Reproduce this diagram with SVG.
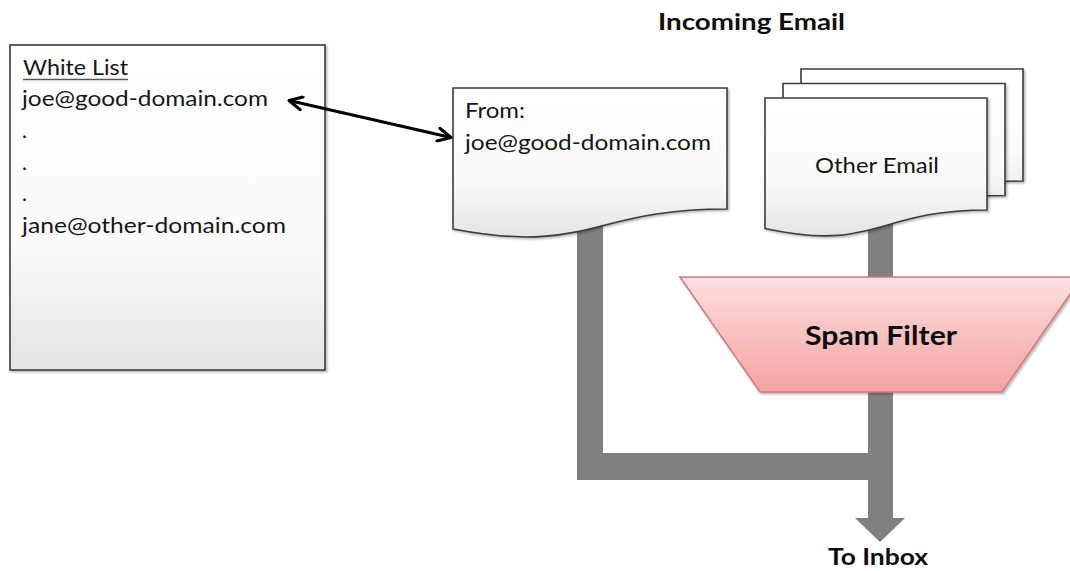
<svg xmlns="http://www.w3.org/2000/svg" width="1070" height="571" viewBox="0 0 1070 571">
<style>
.txt{font-family:Lato,"Liberation Sans",sans-serif;font-size:21px;fill:#161616}
.bold{font-family:Lato,"Liberation Sans",sans-serif;font-weight:bold;fill:#0d0d0d}
.doc{fill:url(#docGrad);stroke:#3c3c3c;stroke-width:1.6;filter:url(#shadow)}
.pipe{fill:#808080}
</style>
<defs>
<linearGradient id="docGrad" x1="0" y1="0" x2="0" y2="1">
<stop offset="0" stop-color="#ffffff"/>
<stop offset="0.6" stop-color="#fbfbfb"/>
<stop offset="1" stop-color="#e4e4e4"/>
</linearGradient>
<linearGradient id="spamGrad" x1="0" y1="0" x2="0" y2="1">
<stop offset="0" stop-color="#fde0e0"/>
<stop offset="1" stop-color="#f4a3a2"/>
</linearGradient>
<filter id="shadow" x="-10%" y="-10%" width="120%" height="120%">
<feDropShadow dx="1.5" dy="1.5" stdDeviation="1.2" flood-color="#000" flood-opacity="0.3"/>
</filter>
<marker id="vhead" viewBox="-16 -8 18 16" refX="0" refY="0" markerWidth="18" markerHeight="16" markerUnits="userSpaceOnUse" orient="auto-start-reverse">
<path d="M-13,-6.5 L0,0 L-13,6.5" fill="none" stroke="#000" stroke-width="3" stroke-linecap="round" stroke-linejoin="round"/>
</marker>
<path id="otherDoc" d="M765,98 H987 V210 C876,210 876,252.6 765,228.5 Z"/>
</defs>

<g id="connectors">
<g id="pipes">
<rect class="pipe" x="577" y="222" width="26" height="258"/>
<rect class="pipe" x="577" y="453" width="316" height="27"/>
<rect class="pipe" x="868" y="222" width="25" height="297"/>
<polygon class="pipe" points="855,518 905,518 880,542"/>
</g>
</g>

<g id="title">
<text class="bold" x="658" y="30" font-size="23" textLength="187" lengthAdjust="spacingAndGlyphs">Incoming Email</text>
</g>

<g id="whiteList">
<rect x="10" y="45" width="315" height="325" class="doc"/>
<text class="txt" x="23" y="75" textLength="105" lengthAdjust="spacingAndGlyphs">White List</text>
<line x1="23" y1="79.5" x2="128" y2="79.5" stroke="#555" stroke-width="1.4"/>
<text class="txt" x="22" y="106" textLength="246" lengthAdjust="spacingAndGlyphs">joe@good-domain.com</text>
<text class="txt" x="22" y="138">.</text>
<text class="txt" x="22" y="170">.</text>
<text class="txt" x="22" y="201">.</text>
<text class="txt" x="22" y="233" textLength="264" lengthAdjust="spacingAndGlyphs">jane@other-domain.com</text>
</g>

<g id="fromEmail">
<path class="doc" d="M453,88 H727 V209 C590,209 590,255 453,229 Z"/>
<text class="txt" x="465" y="118" textLength="60" lengthAdjust="spacingAndGlyphs">From:</text>
<text class="txt" x="465" y="150" textLength="246" lengthAdjust="spacingAndGlyphs">joe@good-domain.com</text>
</g>

<g id="otherEmail">
<use href="#otherDoc" class="doc" transform="translate(36,-29)"/>
<use href="#otherDoc" class="doc" transform="translate(18,-14.5)"/>
<use href="#otherDoc" class="doc"/>
<text class="txt" x="815" y="173" textLength="124" lengthAdjust="spacingAndGlyphs">Other Email</text>
</g>

<g id="spamFilter">
<polygon points="680,277 1082,277 1002,392 760,392" fill="url(#spamGrad)" stroke="#d27b7a" stroke-width="1.6" filter="url(#shadow)"/>
<text class="bold" x="805" y="345" font-size="27" textLength="152" lengthAdjust="spacingAndGlyphs">Spam Filter</text>
</g>

<g id="toInbox">
<text class="bold" x="828" y="565" font-size="22" textLength="100" lengthAdjust="spacingAndGlyphs">To Inbox</text>
</g>

<g id="arrows">
<path d="M289,100.5 L451,137.5" fill="none" stroke="#000" stroke-width="3" marker-start="url(#vhead)" marker-end="url(#vhead)"/>
</g>
</svg>
